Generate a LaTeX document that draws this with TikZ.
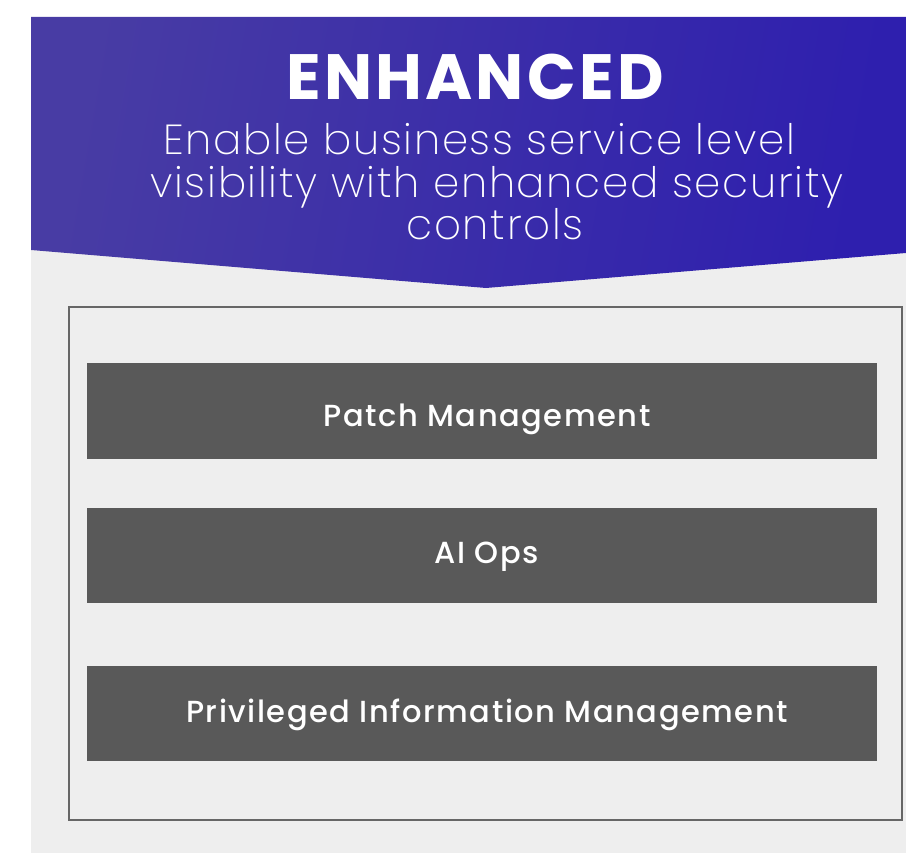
\documentclass[tikz,border=0pt]{standalone}
\usepackage{fontspec}
\setmainfont{Poppins}
\newfontfamily\fbold{Poppins}[UprightFont={* Bold}, LetterSpace=5]
\newfontfamily\flight{Poppins}[UprightFont={* ExtraLight}, LetterSpace=4]
\newfontfamily\fsemi{Poppins}[UprightFont={* Medium}, LetterSpace=5]
\definecolor{bgGray}{HTML}{EEEEEE}
\definecolor{bandL}{HTML}{483CA4}
\definecolor{bandR}{HTML}{2E1FAE}
\definecolor{frameGray}{HTML}{666666}
\definecolor{boxGray}{HTML}{595959}
\tikzset{
  darkbox/.style={fill=boxGray, draw=none, minimum width=790pt, minimum height=96pt, inner sep=0pt},
  boxlabel/.style={text=white, anchor=base, inner sep=0pt, font=\fsemi\fontsize{30.5}{32}\selectfont},
  subline/.style={text=white, anchor=base, inner sep=0pt, font=\flight\fontsize{42}{44}\selectfont},
}
\begin{document}
\begin{tikzpicture}[x=1pt, y=-1pt]
\useasboundingbox (0,0) rectangle (906,853);
\fill[bgGray] (31,17) rectangle (906,853);
\shade[left color=bandL, right color=bandR, shading angle=80] (31,17) -- (906,17) -- (906,253) -- (486,288) -- (31,250) -- cycle;
\node[text=white, anchor=base, inner sep=0pt, font=\fbold\fontsize{64}{66}\selectfont] (title) at (475,100) {ENHANCED};
\node[subline] (s1) at (479,155) {Enable business service level};
\node[subline] (s2) at (497,198) {visibility with enhanced security};
\node[subline] (s3) at (495,240) {controls};
\node[draw=frameGray, line width=2pt, minimum width=833pt, minimum height=513pt, inner sep=0pt] (frame) at (485.5,563.5) {};
\node[darkbox] (b1) at (482,411) {};
\node[darkbox, minimum height=95pt] (b2) at (482,555.5) {};
\node[darkbox, minimum height=95pt] (b3) at (482,713.5) {};
\node[boxlabel] (l1) at (487,426) {Patch Management};
\node[boxlabel] (l2) at (486.5,563) {AI Ops};
\node[boxlabel] (l3) at (487,722) {Privileged Information Management};
\end{tikzpicture}
\end{document}
